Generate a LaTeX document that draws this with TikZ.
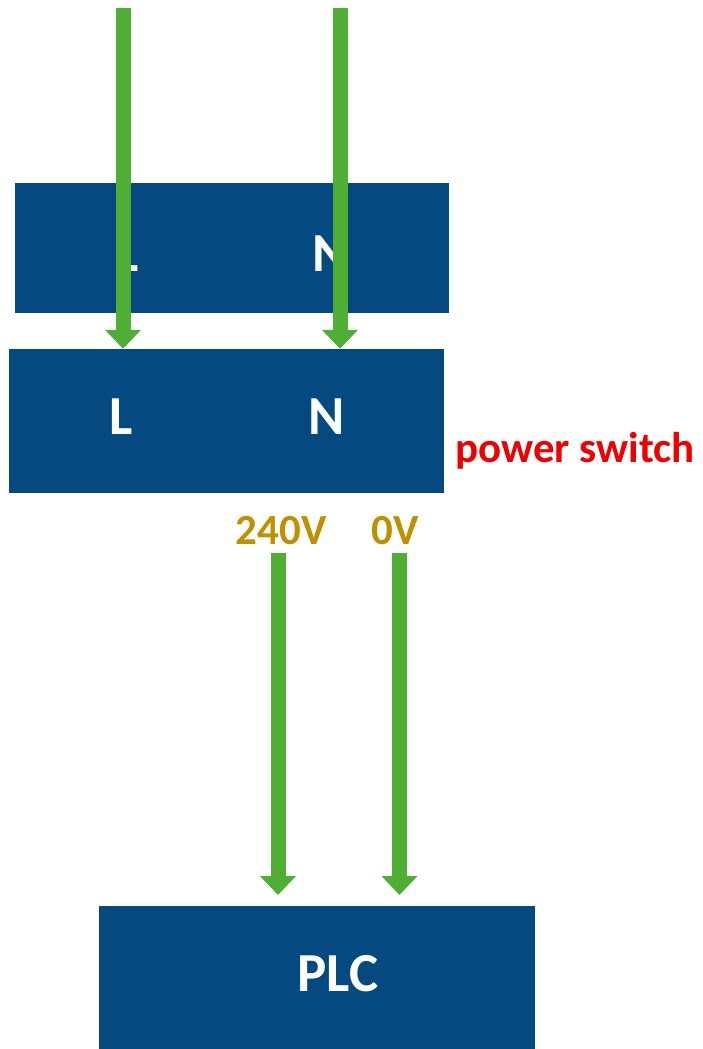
\documentclass[tikz,border=0pt]{standalone}
\usepackage{fontspec}
\setmainfont{Carlito}
\usetikzlibrary{arrows.meta}
\definecolor{boxblue}{HTML}{044A80}
\definecolor{wiregreen}{HTML}{4FAF35}
\definecolor{volt}{HTML}{BF9000}
\definecolor{warnred}{HTML}{EE0000}
\tikzset{
  blockbox/.style={fill=boxblue, draw=none, inner sep=0pt, rectangle},
  termlabel/.style={text=white, inner sep=0pt, font=\bfseries\fontsize{55}{66}\selectfont},
  voltlabel/.style={text=volt, inner sep=0pt, font=\bfseries\fontsize{43}{50}\selectfont},
  wire/.style={draw=wiregreen, line width=15pt, -{Triangle[width=35pt,length=19pt]}},
}
\begin{document}
\begin{tikzpicture}[x=1pt,y=-1pt]
\useasboundingbox (0,0) rectangle (702,1049);
\node[blockbox, minimum width=434pt, minimum height=130pt] (box1) at (232,248) {};
\node[blockbox, minimum width=435pt, minimum height=144pt] (box2) at (226.5,421) {};
\node[blockbox, minimum width=436pt, minimum height=146pt] (plc) at (316.5,979) {};
\node[termlabel] (l1) at (127,254) {L};
\node[termlabel] (n1) at (331,254) {N};
\node[termlabel] (l2) at (121,417) {L};
\node[termlabel] (n2) at (327,417) {N};
\node[termlabel] (plct) at (338,974) {PLC};
\node[text=warnred, inner sep=0pt, font=\bfseries\fontsize{43}{50}\selectfont, anchor=base west] (ps) at (455,462) {power switch};
\node[voltlabel] (v240) at (281,531) {240V};
\node[voltlabel] (v0) at (395,531) {0V};
\coordinate (topl) at (123,8);
\coordinate (topn) at (340,8);
\draw[wire] (topl) -- (topl |- box2.north);
\draw[wire] (topn) -- (topn |- box2.north);
\draw[wire] (278,553) -- (278,895);
\draw[wire] (399.5,553) -- (399.5,895);
\end{tikzpicture}
\end{document}
